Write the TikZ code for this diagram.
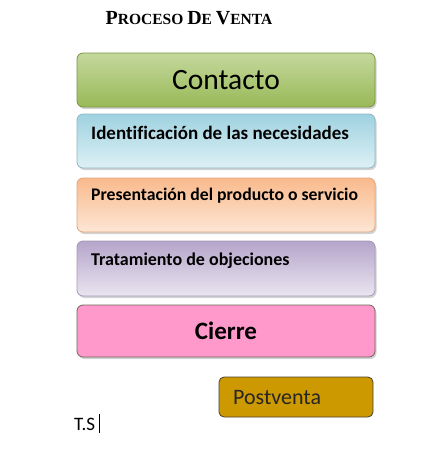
\documentclass[tikz,border=0pt]{standalone}
\usepackage{fontspec}
\setmainfont[Ligatures=NoCommon]{Carlito}
\newfontfamily\titlefont{Liberation Serif}
\usetikzlibrary{shadows}
\definecolor{grnT}{HTML}{C4D89D}
\definecolor{grnB}{HTML}{98B957}
\definecolor{grnD}{HTML}{7A9444}
\definecolor{bluT}{HTML}{9FD2E0}
\definecolor{bluB}{HTML}{DDF0F5}
\definecolor{bluD}{HTML}{8FB8C4}
\definecolor{orgT}{HTML}{F9BA8C}
\definecolor{orgB}{HTML}{FDE6D5}
\definecolor{orgD}{HTML}{E0A67C}
\definecolor{purT}{HTML}{B5A5CA}
\definecolor{purB}{HTML}{EAE5F0}
\definecolor{purD}{HTML}{A596B8}
\definecolor{pinkF}{HTML}{FF99CC}
\definecolor{goldF}{HTML}{CC9900}
\definecolor{darkB}{HTML}{4A4030}
\tikzset{
  stagebox/.style={draw, rounded corners=6pt, minimum width=298pt, minimum height=54pt,
    inner sep=0pt, line width=0.8pt,
    drop shadow={shadow xshift=1.5pt, shadow yshift=-2pt, opacity=0.35}},
  stagetext/.style={anchor=west, inner sep=0pt, font=\fontsize{19}{21}\selectfont\bfseries},
}
\begin{document}
\begin{tikzpicture}[x=1pt,y=-1pt]
\useasboundingbox (0,0) rectangle (442,467);
\node (title) at (189,18) {\titlefont\bfseries\fontsize{20}{21}\selectfont P\fontsize{15.5}{16}\selectfont ROCESO \fontsize{20}{21}\selectfont D\fontsize{15.5}{16}\selectfont E \fontsize{20}{21}\selectfont V\fontsize{15.5}{16}\selectfont ENTA};
\node[stagebox, draw=grnD, top color=grnT, bottom color=grnB, font=\fontsize{29.5}{31}\selectfont] (contacto) at (226,80) {Contacto};
\node[stagebox, draw=bluD, top color=bluT, bottom color=bluB] (ident) at (226,141) {};
\node[stagetext] (identt) at (91,133) {Identificación de las necesidades};
\node[stagebox, draw=orgD, top color=orgT, bottom color=orgB] (pres) at (226,205) {};
\node[stagetext, font=\fontsize{17.7}{20}\selectfont\bfseries] (prest) at (91,196) {Presentación del producto o servicio};
\node[stagebox, draw=purD, top color=purT, bottom color=purB, minimum height=55pt] (trat) at (226,268.5) {};
\node[stagetext, font=\fontsize{18}{20}\selectfont\bfseries] (tratt) at (91,261) {Tratamiento de objeciones};
\node[stagebox, draw=darkB!80, fill=pinkF, minimum height=52pt, font=\fontsize{25}{27}\selectfont\bfseries] (cierre) at (226,331) {Cierre};
\node[draw=darkB, fill=goldF, rounded corners=5pt, minimum width=154pt, minimum height=40pt, line width=0.8pt, inner sep=0pt] (post) at (296,397) {};
\node[anchor=west, inner sep=0pt, font=\fontsize{22}{24}\selectfont, text=black!85] (postt) at (233,398) {Postventa};
\node[anchor=west, inner sep=0pt, font=\fontsize{19}{21}\selectfont] (ts) at (74,424) {T.S};
\coordinate (curA) at (99.5,414);
\coordinate (curB) at (99.5,433);
\draw[line width=1.3pt] (curA) -- (curB);
\end{tikzpicture}
\end{document}
